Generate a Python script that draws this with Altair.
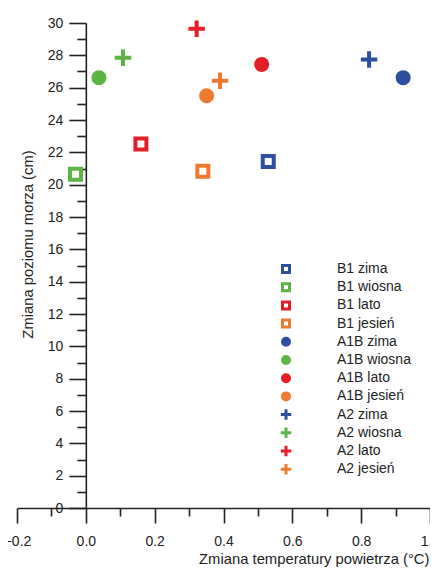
import altair as alt
import pandas as pd

labels = ["B1 zima", "B1 wiosna", "B1 lato", "B1 jesień",
          "A1B zima", "A1B wiosna", "A1B lato", "A1B jesień",
          "A2 zima", "A2 wiosna", "A2 lato", "A2 jesień"]
temp = [0.53, -0.03, 0.16, 0.34,
        0.922, 0.038, 0.511, 0.351,
        0.823, 0.108, 0.322, 0.390]
sea = [21.43, 20.65, 22.52, 20.83,
       26.62, 26.62, 27.44, 25.5,
       27.75, 27.85, 29.65, 26.43]

season_colors = ["#2f4ea0", "#5cb544", "#e31e26", "#ee7a30"]
stroke_colors = season_colors * 3
fill_colors = ["white"] * 4 + season_colors * 2
plus_path = "M-1.5,0H1.5M0,-1.5V1.5"
shapes = ["square"] * 4 + ["circle"] * 4 + [plus_path] * 4

x_ticks = [round(-0.2 + 0.1 * i, 1) for i in range(13)]
y_ticks = list(range(0, 31))

df = pd.DataFrame({"label": labels, "temp": temp, "sea": sea})

title_font = "Liberation Sans, Arial, sans-serif"
label_font = "Liberation Sans, Arial, sans-serif"
axis_color = "#222222"

x_even = "abs(round(datum.value*10)) % 2 == 0"
y_even = "round(datum.value) % 2 == 0"

W = 413
H = 485
y_axis_offset = -W * 0.2 / 1.2

chart = alt.Chart(df).mark_point(
    filled=True, size=121, strokeWidth=4, opacity=1
).encode(
    x=alt.X("temp:Q",
            scale=alt.Scale(domain=[-0.2, 1.0], nice=False, zero=False),
            axis=alt.Axis(
                values=x_ticks,
                labelExpr=f"{x_even} ? format(datum.value, '.1f') : ''",
                tickSize={"condition": {"test": x_even, "value": 15}, "value": 8},
                labelPadding=11,
                title="Zmiana temperatury powietrza (°C)",
                titleX=412, titleY=55,
                titleAlign="right", titleBaseline="alphabetic",
                titleFont=title_font, titleFontSize=14.8, titleFontWeight="normal",
                titleColor=axis_color,
                labelFont=label_font, labelFontSize=14, labelColor=axis_color,
                domainColor=axis_color, tickColor=axis_color,
                domainWidth=1.6, tickWidth=1.6, grid=False,
                labelFlush=False, labelOverlap=False,
            )),
    y=alt.Y("sea:Q",
            scale=alt.Scale(domain=[0, 30], nice=False, zero=False),
            axis=alt.Axis(
                values=y_ticks,
                labelExpr=f"{y_even} ? format(datum.value, 'd') : ''",
                tickSize={"condition": {"test": y_even, "value": 17}, "value": 9},
                labelPadding=6,
                offset=y_axis_offset,
                title="Zmiana poziomu morza (cm)",
                titleX=11 + y_axis_offset, titleY=221,
                titleAngle=-90,
                titleAlign="center", titleBaseline="middle",
                titleFont=title_font, titleFontSize=14.8, titleFontWeight="normal",
                titleColor=axis_color,
                labelFont=label_font, labelFontSize=14, labelColor=axis_color,
                domainColor=axis_color, tickColor=axis_color,
                domainWidth=1.6, tickWidth=1.6, grid=False,
                labelFlush=False, labelOverlap=False,
            )),
    fill=alt.Fill("label:N", sort=labels,
                  scale=alt.Scale(domain=labels, range=fill_colors),
                  legend=alt.Legend(title=None)),
    stroke=alt.Stroke("label:N", sort=labels,
                      scale=alt.Scale(domain=labels, range=stroke_colors),
                      legend=alt.Legend(title=None)),
    shape=alt.Shape("label:N", sort=labels,
                    scale=alt.Scale(domain=labels, range=shapes),
                    legend=alt.Legend(
                        title=None, orient="none", legendX=262, legendY=239,
                        symbolSize=49, symbolStrokeWidth=3,
                        labelFont=label_font, labelFontSize=14,
                        labelColor=axis_color, labelOffset=44,
                        clipHeight=14, rowPadding=4.2, padding=0,
                    )),
).properties(
    width=W, height=H,
    autosize=alt.AutoSizeParams(type="none"),
    padding={"left": 9, "top": 15, "right": 0, "bottom": 61},
    background="white",
).configure_view(strokeWidth=0)

chart.save("out.html", embed_options={"renderer": "svg", "actions": False})
